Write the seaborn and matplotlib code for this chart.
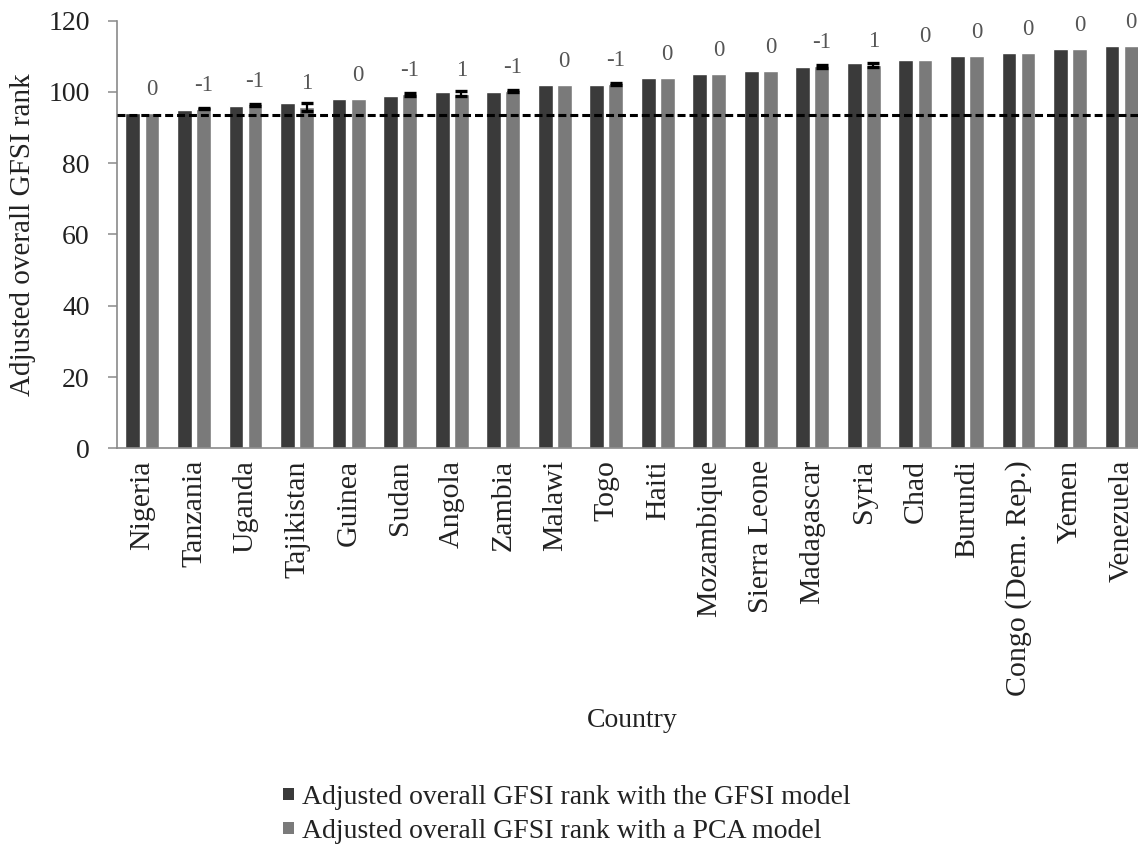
import matplotlib
matplotlib.use("Agg")
import matplotlib.pyplot as plt
from matplotlib.patches import Patch
import numpy as np
import pandas as pd
import seaborn as sns

# Countries ordered by their adjusted GFSI rank
countries = ["Nigeria", "Tanzania", "Uganda", "Tajikistan", "Guinea", "Sudan",
             "Angola", "Zambia", "Malawi", "Togo", "Haiti", "Mozambique",
             "Sierra Leone", "Madagascar", "Syria", "Chad", "Burundi",
             "Congo (Dem. Rep.)", "Yemen", "Venezuela"]

# Adjusted overall rank under the GFSI weighting
gfsi_rank = [94, 95, 96, 97, 98, 99, 100, 100, 102, 102,
             104, 105, 106, 107, 108, 109, 110, 111, 112, 113]

# Adjusted overall rank under the PCA weighting (mean) and its spread
pca_rank = [94, 95.35, 96.25, 95.8, 98, 99.3, 99.5, 100.35, 102, 102.2,
            104, 105, 106, 107.2, 107.6, 109, 110, 111, 112, 113]
pca_err = [0, 0.25, 0.25, 1.2, 0, 0.3, 0.75, 0.25, 0, 0.3,
           0, 0, 0, 0.4, 0.65, 0, 0, 0, 0, 0]

# Rank change (GFSI minus PCA) printed above each pair
rank_change = [0, -1, -1, 1, 0, -1, 1, -1, 0, -1,
               0, 0, 0, -1, 1, 0, 0, 0, 0, 0]

threshold = 93.5

series_names = ["Adjusted overall GFSI rank with the GFSI model",
                "Adjusted overall GFSI rank with a PCA model"]
series_colors = ["#3a3a3a", "#7a7a7a"]

df = pd.DataFrame({
    "Country": countries * 2,
    "Rank": gfsi_rank + pca_rank,
    "Model": [series_names[0]] * len(countries) + [series_names[1]] * len(countries),
})

sns.set_theme(style="white")
plt.rcParams["font.family"] = ["Liberation Serif", "DejaVu Serif"]

fig = plt.figure(figsize=(11.38, 8.56), dpi=100)
ax = fig.add_axes([0.10255, 0.47629, 0.90562, 0.49953])

sns.barplot(data=df, x="Country", y="Rank", hue="Model", order=countries,
            hue_order=series_names, palette=series_colors, width=0.74, gap=0.22,
            errorbar=None, legend=False, saturation=1, ax=ax, zorder=2)

# Error bars on the PCA bars, placed at the bar centres seaborn produced
pca_bars = ax.containers[1]
xs = np.array([p.get_x() + p.get_width() / 2 for p in pca_bars])
err = np.array(pca_err)
mask = err > 0
ax.errorbar(xs[mask], np.array(pca_rank)[mask], yerr=err[mask], fmt="none",
            ecolor="black", elinewidth=1.6, capsize=4.5, capthick=2.4, zorder=4)

# Rank-change labels above the PCA bars
for x, v, d in zip(xs, pca_rank, rank_change):
    ax.text(x, v + 6.6, f"{d}", ha="center", va="center", fontsize=16.5,
            color="#555555")

# Threshold line
ax.axhline(threshold, color="black", lw=2.2, linestyle=(0, (2.6, 1.3)), zorder=5)

ax.set_xlim(-0.5, 19.5)
ax.set_ylim(0, 120)
ax.set_yticks(np.arange(0, 121, 20))

for side in ["top", "right"]:
    ax.spines[side].set_visible(False)
for side in ["left", "bottom"]:
    ax.spines[side].set_color("#8a8a8a")
    ax.spines[side].set_linewidth(1.2)

ax.tick_params(axis="y", which="major", length=6.5, width=1.1, color="#8a8a8a",
               pad=13, labelsize=20, labelcolor="#222222", left=True)
ax.tick_params(axis="x", length=0, pad=8.5, labelsize=21.5, labelcolor="#222222",
               labelrotation=90)

ax.set_xlabel("Country", fontsize=20, color="#222222")
ax.set_ylabel("Adjusted overall GFSI rank", fontsize=21, color="#222222")
ax.xaxis.set_label_coords(0.5, -0.607)
ax.xaxis.label.set_va("top")
ax.yaxis.set_label_coords(-0.0783, 0.5)

handles = [Patch(facecolor=c, edgecolor="none") for c in series_colors]
fig.legend(handles, series_names, loc="upper left",
           bbox_to_anchor=(283 / 1138, 1 - 785 / 856), frameon=False,
           fontsize=20, handlelength=0.38, handleheight=0.3,
           handletextpad=0.3, labelspacing=0.32, borderpad=0, borderaxespad=0,
           labelcolor="#222222")

fig.savefig("out.png", dpi=100, facecolor="white")
